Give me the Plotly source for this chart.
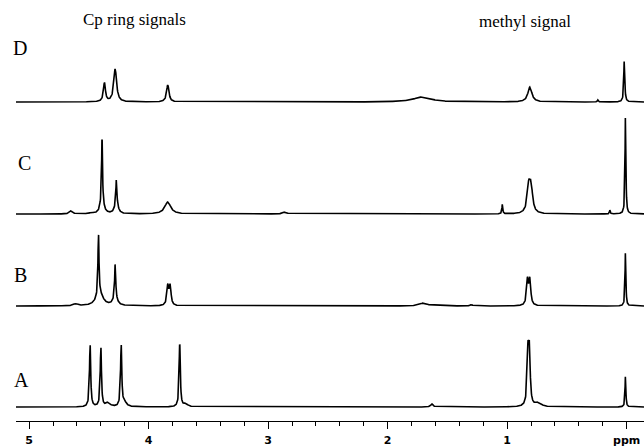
import numpy as np
import plotly.graph_objects as go

# ---- data (ppm positions, peak heights, half-widths) ----
labels = ["A", "B", "C", "D"]

A_pos = [4.49, 4.40, 4.34, 4.23, 4.20, 3.74, 3.69, 1.63, 0.826, 0.814, 0.74, 0.01]
A_int = [63, 60, 4, 62, 4, 63, 3, 3, 50, 50, 4, 32]
A_wid = [0.006, 0.006, 0.02, 0.006, 0.02, 0.006, 0.02, 0.012, 0.008, 0.008, 0.03, 0.004]

B_pos = [4.61, 4.42, 4.41, 4.28, 4.28, 3.84, 3.82, 1.70, 1.30, 0.83, 0.81, 0.01]
B_int = [2, 62, 12, 34, 8, 19, 19, 3, 1.5, 25, 25, 56]
B_wid = [0.02, 0.005, 0.035, 0.005, 0.02, 0.009, 0.009, 0.04, 0.01, 0.009, 0.009, 0.004]

C_pos = [4.65, 4.48, 4.39, 4.39, 4.27, 4.27, 3.84, 2.86, 1.04, 0.82, 0.80, 0.14, 0.01]
C_int = [3, 1, 60, 17, 22, 13, 12, 2, 10, 25, 25, 4, 102]
C_wid = [0.015, 0.015, 0.004, 0.015, 0.004, 0.015, 0.03, 0.02, 0.004, 0.015, 0.015, 0.004, 0.004]

D_pos = [4.37, 4.28, 3.84, 1.71, 0.81, 0.24, 0.02]
D_int = [19, 33, 17, 5, 15, 2, 42]
D_wid = [0.01, 0.014, 0.012, 0.09, 0.02, 0.005, 0.005]

tick_vals = [5, 4, 3, 2, 1, 0]
tick_text = ["5", "4", "3", "2", "1", "ppm"]

# ---- layout constants ----
offsets = {"A": 14, "B": 115, "C": 207, "D": 319}
peaks = {"A": (A_pos, A_int, A_wid), "B": (B_pos, B_int, B_wid),
         "C": (C_pos, C_int, C_wid), "D": (D_pos, D_int, D_wid)}

x = np.arange(-0.145, 5.112, 0.002)

fig = go.Figure()
for lab in labels:
    pos, inten, wid = peaks[lab]
    y = np.full_like(x, float(offsets[lab]))
    for p, h, g in zip(pos, inten, wid):
        y += h / (1.0 + ((x - p) / g) ** 2)
    fig.add_trace(go.Scatter(x=x, y=y, mode="lines",
                             line=dict(color="black", width=1.6),
                             showlegend=False, hoverinfo="skip"))

serif = "Liberation Serif"
annots = [
    dict(x=4.12, y=402, text="Cp ring signals", size=17),
    dict(x=0.85, y=400, text="methyl signal", size=17),
    dict(x=5.077, y=373, text="D", size=20),
    dict(x=5.04, y=258, text="C", size=20),
    dict(x=5.07, y=146, text="B", size=20),
    dict(x=5.06, y=41, text="A", size=20),
]
for a in annots:
    fig.add_annotation(x=a["x"], y=a["y"], text=a["text"], showarrow=False,
                       xref="x", yref="y", xanchor="center", yanchor="middle",
                       font=dict(family=serif, size=a["size"], color="black"))

fig.update_layout(
    width=644, height=447,
    margin=dict(l=16, r=0, t=0, b=26),
    paper_bgcolor="white", plot_bgcolor="white",
    xaxis=dict(range=[5.11, -0.145], showgrid=False, zeroline=False,
               showline=True, linecolor="black", linewidth=1.4,
               ticks="outside", ticklen=7, tickwidth=1.4, tickcolor="black",
               tickvals=tick_vals, ticktext=tick_text,
               tickfont=dict(family="DejaVu Sans", size=11, color="black", weight="bold"),
               ticklabelstandoff=2, ticklabeloverflow="allow",
               minor=dict(dtick=0.2, ticks="outside", ticklen=4, tickwidth=1.2,
                          tickcolor="black", showgrid=False)),
    yaxis=dict(range=[0, 421], visible=False),
)

fig.write_html("out.html", config={"displayModeBar": False},
               post_script="document.body.style.margin='0';")
